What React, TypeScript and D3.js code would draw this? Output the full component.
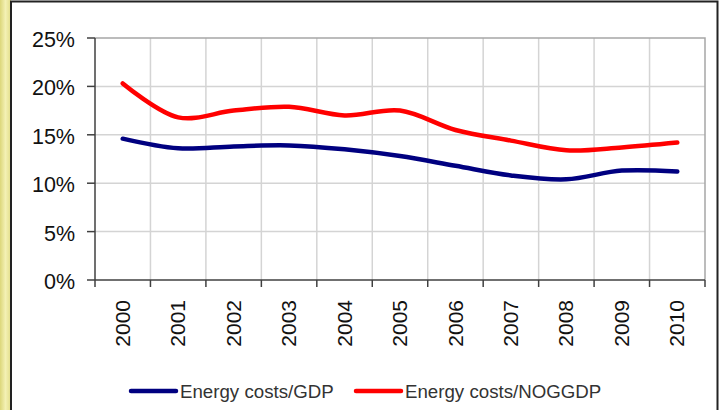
import React, { useEffect, useRef } from "react";
import * as d3 from "d3";

// values (percent)
const years = ["2000", "2001", "2002", "2003", "2004", "2005", "2006", "2007", "2008", "2009", "2010"];
const costsGdp = [14.6, 13.6, 13.8, 13.9, 13.5, 12.8, 11.8, 10.8, 10.4, 11.3, 11.2];
const costsNoggdp = [20.3, 16.8, 17.5, 17.9, 17.0, 17.5, 15.5, 14.4, 13.4, 13.7, 14.2];
const yTicks = [0, 5, 10, 15, 20, 25];
const seriesNames = ["Energy costs/GDP", "Energy costs/NOGGDP"];
const seriesColors = ["#000080", "#ff0000"];

const FONT = "'Liberation Sans', Arial, sans-serif";

export const EnergyChart = () => {
    const ref = useRef<SVGSVGElement>(null);

    const draw = () => {
        if (!ref.current) {
            return;
        }
        const svg = d3.select(ref.current);
        svg.selectAll("*").remove();

        const W = 720, H = 410;
        const plot = { left: 95, right: 705, top: 38, bottom: 280 };

        // outer frame: white card with yellow strip on the left
        const defs = svg.append("defs");
        const grad = defs.append("linearGradient").attr("id", "strip").attr("x1", 0).attr("x2", 1);
        grad.append("stop").attr("offset", "0%").attr("stop-color", "#dcd77a");
        grad.append("stop").attr("offset", "50%").attr("stop-color", "#f4f1b4");
        grad.append("stop").attr("offset", "100%").attr("stop-color", "#e2dd88");

        svg.append("rect").attr("width", W).attr("height", H).attr("fill", "#fff");
        svg.append("rect").attr("x", 0).attr("y", 0).attr("width", 11).attr("height", H).attr("fill", "url(#strip)");
        svg.append("path")
            .attr("d", `M11,${H} V1.5 H717.5 V${H}`)
            .attr("fill", "none")
            .attr("stroke", "#222")
            .attr("stroke-width", 2);

        const x = d3.scaleBand().domain(years).range([plot.left, plot.right]);
        const cx = (d: string) => (x(d) as number) + x.bandwidth() / 2;
        const y = d3.scaleLinear().domain([0, 25]).range([plot.bottom, plot.top]);

        // grid
        const grid = svg.append("g");
        grid.selectAll("line.h")
            .data(yTicks.filter(t => t > 0 && t < 25))
            .enter()
            .append("line")
            .attr("x1", plot.left).attr("x2", plot.right)
            .attr("y1", d => y(d)).attr("y2", d => y(d))
            .attr("stroke", "#d4d4d4").attr("stroke-width", 1.5);
        grid.selectAll("line.v")
            .data(years.slice(1))
            .enter()
            .append("line")
            .attr("x1", d => x(d) as number).attr("x2", d => x(d) as number)
            .attr("y1", plot.top).attr("y2", plot.bottom)
            .attr("stroke", "#d4d4d4").attr("stroke-width", 1.5);
        // top and right border of plot area
        svg.append("path")
            .attr("d", `M${plot.left},${y(25)} H${plot.right} V${plot.bottom}`)
            .attr("fill", "none")
            .attr("stroke", "#a6a6a6")
            .attr("stroke-width", 1.5);

        // y axis
        svg.append("line")
            .attr("x1", plot.left).attr("x2", plot.left)
            .attr("y1", plot.top).attr("y2", plot.bottom)
            .attr("stroke", "#404040").attr("stroke-width", 1.5);
        svg.selectAll("line.yt")
            .data(yTicks)
            .enter()
            .append("line")
            .attr("x1", plot.left - 8).attr("x2", plot.left)
            .attr("y1", d => y(d)).attr("y2", d => y(d))
            .attr("stroke", "#404040").attr("stroke-width", 1.5);
        svg.selectAll("text.yl")
            .data(yTicks)
            .enter()
            .append("text")
            .attr("x", 75)
            .attr("y", d => y(d))
            .attr("dy", "0.42em")
            .attr("text-anchor", "end")
            .attr("font-family", FONT)
            .attr("font-size", 21.5)
            .attr("fill", "#111")
            .text(d => d + "%");

        // x axis
        svg.append("line")
            .attr("x1", plot.left).attr("x2", plot.right)
            .attr("y1", plot.bottom).attr("y2", plot.bottom)
            .attr("stroke", "#404040").attr("stroke-width", 1.5);
        const bounds = years.map(d => x(d) as number).concat([plot.right]);
        svg.selectAll("line.xt")
            .data(bounds)
            .enter()
            .append("line")
            .attr("x1", d => d).attr("x2", d => d)
            .attr("y1", plot.bottom).attr("y2", plot.bottom + 7)
            .attr("stroke", "#404040").attr("stroke-width", 1.5);
        svg.selectAll("text.xl")
            .data(years)
            .enter()
            .append("text")
            .attr("transform", d => `translate(${cx(d) - 0.5},${plot.bottom + 20}) rotate(-90)`)
            .attr("dy", "0.36em")
            .attr("text-anchor", "end")
            .attr("font-family", FONT)
            .attr("font-size", 21)
            .attr("fill", "#111")
            .text(d => d);

        // smoothed series lines
        const series = [costsGdp, costsNoggdp];
        const line = d3.line<number>()
            .x((_, i) => cx(years[i]))
            .y(d => y(d))
            .curve(d3.curveCatmullRom.alpha(0.5));
        svg.append("g")
            .selectAll("path")
            .data(series)
            .enter()
            .append("path")
            .attr("d", d => line(d))
            .attr("fill", "none")
            .attr("stroke", (_, i) => seriesColors[i])
            .attr("stroke-width", 4.5)
            .attr("stroke-linecap", "round")
            .attr("stroke-linejoin", "round");

        // legend
        const legendX = [131, 356];
        const legendY = 391;
        const lg = svg.append("g");
        seriesNames.forEach((name, i) => {
            lg.append("line")
                .attr("x1", legendX[i]).attr("x2", legendX[i] + 45)
                .attr("y1", legendY).attr("y2", legendY)
                .attr("stroke", seriesColors[i])
                .attr("stroke-width", 4.5)
                .attr("stroke-linecap", "round");
            lg.append("text")
                .attr("x", legendX[i] + 49)
                .attr("y", legendY)
                .attr("dy", "0.36em")
                .attr("font-family", FONT)
                .attr("font-size", 18.7)
                .attr("fill", "#333")
                .text(name);
        });
    };

    useEffect(draw, []);

    return (
        <svg
            ref={ref}
            width={720}
            height={410}
            style={{ position: "absolute", left: 0, top: 0, display: "block" }}
        />
    );
};

export default function App() {
    return <EnergyChart />;
}
